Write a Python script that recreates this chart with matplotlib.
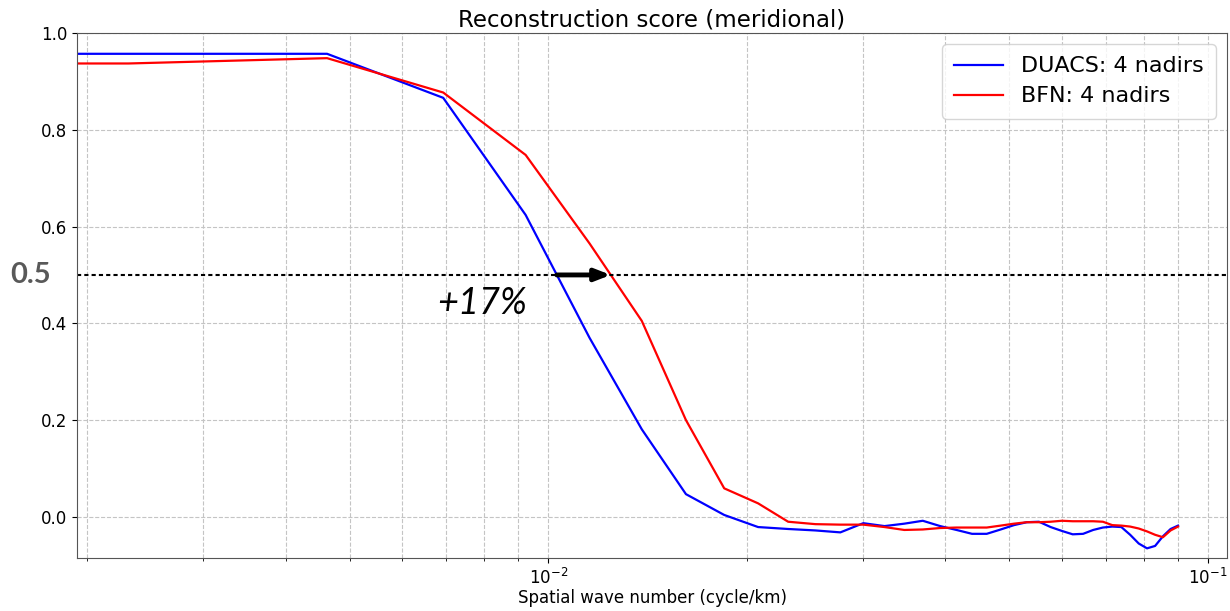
import numpy as np
import matplotlib
matplotlib.use("Agg")
import matplotlib.pyplot as plt

# wavenumbers (cycle/km), first point sits just left of the plotted range
wavenumber = [0.0015, 0.00231, 0.00462, 0.00693, 0.00924, 0.01155, 0.01386, 0.01617,
              0.01848, 0.0208, 0.0231, 0.02541, 0.02772, 0.03003, 0.03234, 0.03465,
              0.03696, 0.03927, 0.04158, 0.04389, 0.0462, 0.04851, 0.05082, 0.05313,
              0.05544, 0.05775, 0.06006, 0.06237, 0.06468, 0.06699, 0.0693, 0.07161,
              0.07392, 0.07623, 0.07854, 0.08085, 0.08316, 0.08547, 0.08778, 0.09009]

score_duacs = [0.957, 0.957, 0.957, 0.866, 0.624, 0.37, 0.181, 0.047,
               0.004, -0.021, -0.025, -0.028, -0.032, -0.013, -0.019, -0.014,
               -0.008, -0.019, -0.027, -0.035, -0.035, -0.026, -0.017, -0.011,
               -0.010, -0.021, -0.029, -0.036, -0.035, -0.027, -0.022, -0.020,
               -0.021, -0.037, -0.055, -0.065, -0.060, -0.040, -0.025, -0.018]

score_bfn = [0.937, 0.937, 0.948, 0.877, 0.748, 0.565, 0.405, 0.200,
             0.059, 0.028, -0.010, -0.015, -0.016, -0.016, -0.021, -0.027,
             -0.026, -0.023, -0.022, -0.022, -0.022, -0.018, -0.014, -0.011,
             -0.011, -0.010, -0.008, -0.009, -0.009, -0.009, -0.010, -0.017,
             -0.018, -0.020, -0.024, -0.030, -0.037, -0.042, -0.028, -0.020]

labels = ["DUACS: 4 nadirs", "BFN: 4 nadirs"]
threshold = 0.5
gain_text = "+17%"


def crossing(k, s, level):
    # first wavenumber where the score drops below the level (log-linear interp)
    k = np.asarray(k)
    s = np.asarray(s)
    i = np.where(s < level)[0][0]
    lk0, lk1 = np.log10(k[i - 1]), np.log10(k[i])
    f = (s[i - 1] - level) / (s[i - 1] - s[i])
    return 10 ** (lk0 + f * (lk1 - lk0))


fig = plt.figure(figsize=(12.3, 6.11), dpi=100)
ax = fig.add_axes([0.0626, 0.0867, 0.935, 0.8593])

ax.plot(wavenumber, score_duacs, color="b", lw=1.6, label=labels[0])
ax.plot(wavenumber, score_bfn, color="r", lw=1.6, label=labels[1])

ax.set_xscale("log")
ax.set_xlim(0.00193, 0.1069)
ax.set_ylim(-0.085, 1.0)
ax.set_yticks([0.0, 0.2, 0.4, 0.6, 0.8, 1.0])
ax.tick_params(labelsize=12)
ax.grid(True, which="both", axis="x", ls="--", color="#c4c4c4", lw=0.8)
ax.grid(True, which="major", axis="y", ls="--", color="#c4c4c4", lw=0.8)
for sp in ax.spines.values():
    sp.set_color("#555555")

ax.set_title("Reconstruction score (meridional)", fontsize=16.5, pad=5)
ax.set_xlabel("Spatial wave number (cycle/km)", fontsize=12, labelpad=1)

ax.legend(loc="upper right", fontsize=16, handlelength=2.2, borderpad=0.55,
          labelspacing=0.45, framealpha=0.8)

# 0.5 threshold line and shift between the two curves
ax.axhline(threshold, color="k", ls=(0, (2, 1.5)), lw=1.5)
k_blue = crossing(wavenumber, score_duacs, threshold)
k_red = crossing(wavenumber, score_bfn, threshold)
ax.annotate("", xy=(k_red, threshold), xytext=(k_blue, threshold),
            arrowprops=dict(arrowstyle="-|>,head_width=0.35,head_length=0.9",
                            color="k", lw=3.5, shrinkA=0, shrinkB=0))
ax.text(np.sqrt(k_blue * k_red) * 0.70, 0.442, gain_text, fontsize=26,
        family="Lato", style="italic", ha="center", va="center")
fig.text(0.0245, (threshold + 0.085) / 1.085 * 0.8593 + 0.0867, "0.5",
         fontsize=21, family="Lato", weight="bold", color="#595959",
         ha="center", va="center")

fig.savefig("out.png", dpi=100)
